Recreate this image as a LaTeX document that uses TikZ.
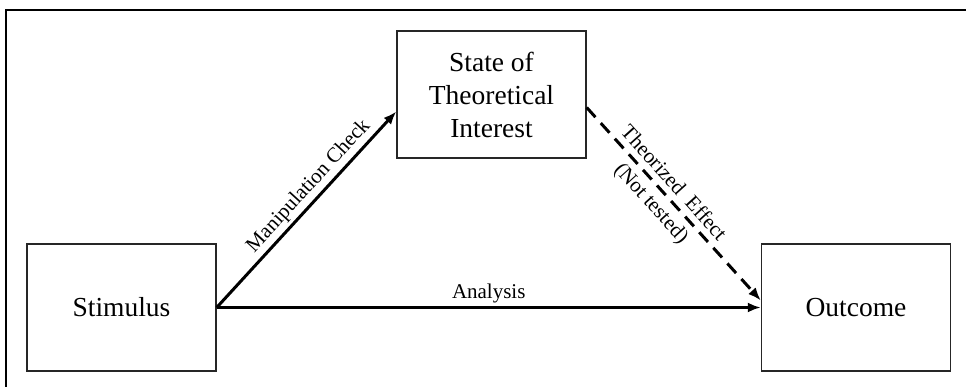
\documentclass[tikz,border=0pt]{standalone}
\usepackage{fontspec}
\setmainfont{Liberation Serif}
\usetikzlibrary{arrows.meta,calc}
\begin{document}
\begin{tikzpicture}[x=1pt,y=1pt,
  box/.style={draw=black!85,line width=1.4pt,minimum width=189pt,minimum height=127pt,
    inner sep=0pt,align=center,font=\fontsize{27.5}{33}\selectfont},
  conn/.style={line width=3pt,-{Latex[length=13pt,width=10pt]}},
  dconn/.style={conn,dash pattern=on 13pt off 8pt},
  lab/.style={font=\fontsize{21}{25}\selectfont,inner sep=3pt}]
\useasboundingbox (0,0) rectangle (966,-387);
\draw[line width=2pt] (6,-388) -- (6,-10) -- (967,-10);
\node[box] (S) at (121.5,-307.5) {Stimulus};
\node[box] (T) at (491.5,-94.5) {State of\\Theoretical\\Interest};
\node[box] (O) at (856,-307.5) {Outcome};
\draw[conn] (S.east) -- node[lab,above,sloped,pos=0.57] {Manipulation Check} ([yshift=-17pt]T.west);
\draw[conn] (S.east) -- node[lab,above] {Analysis} (O.west);
\draw[dconn] ([yshift=-13pt]T.east) -- node[lab,above,sloped,pos=0.44,yshift=3pt] {Theorized~~Effect}
  node[lab,below,sloped,pos=0.44,yshift=-3pt] {(Not tested)} ([yshift=7pt]O.west);
\end{tikzpicture}
\end{document}
